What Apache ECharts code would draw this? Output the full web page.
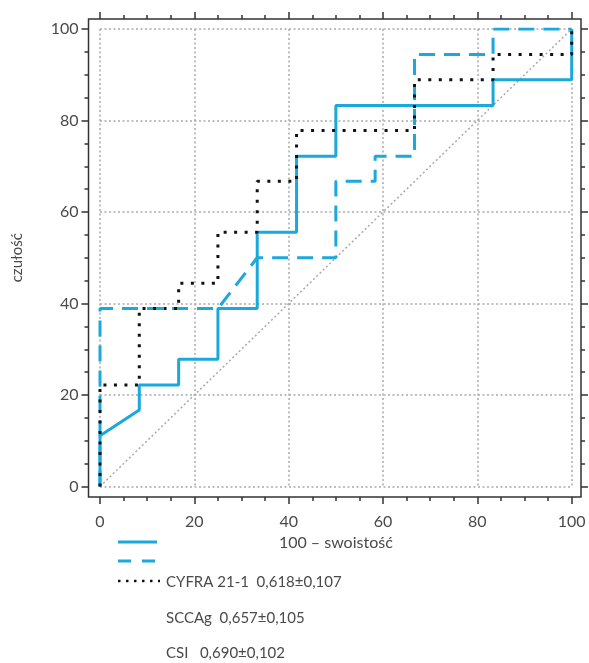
<!DOCTYPE html>
<html>
<head>
<meta charset="utf-8">
<style>
  html, body { margin: 0; padding: 0; background: #fff; }
  #roc { width: 589px; height: 663px; }
</style>
<script src="https://cdn.jsdelivr.net/npm/echarts@6/dist/echarts.min.js"></script>
</head>
<body>
<div id="roc"></div>
<script>
// ROC curves, x = 100 - swoistosc, y = czulosc
var cyfraPoints = [[0, 0], [0, 11.1], [8.33, 16.7], [8.33, 22.2], [16.67, 22.2], [16.67, 27.8],
    [25, 27.8], [25, 38.9], [33.33, 38.9], [33.33, 55.6], [41.67, 55.6], [41.67, 72.2],
    [50, 72.2], [50, 83.3], [83.33, 83.3], [83.33, 88.9], [100, 88.9], [100, 100]];
var sccagPoints = [[0, 0], [0, 38.9], [25, 38.9], [33.33, 50], [50, 50], [50, 66.7],
    [58.33, 66.7], [58.33, 72.2], [66.67, 72.2], [66.67, 94.4], [83.33, 94.4], [83.33, 100], [100, 100]];
var csiPoints = [[0, 0], [0, 22.2], [8.33, 22.2], [8.33, 38.9], [16.67, 38.9], [16.67, 44.4],
    [25, 44.4], [25, 55.6], [33.33, 55.6], [33.33, 66.7], [41.67, 66.7], [41.67, 77.8],
    [66.67, 77.8], [66.67, 88.9], [83.33, 88.9], [83.33, 94.4], [100, 94.4], [100, 100]];
var diagonal = [[0, 0], [100, 100]];

var seriesNames = ['CYFRA 21-1', 'SCCAg', 'CSI'];
var aucLabels = ['0,618±0,107', '0,657±0,105', '0,690±0,102'];
var legendGaps = ['  ', '  ', '   '];

var xName = '100 – swoistość';
var yName = 'czułość';

var blue = '#1ba8dc';
var textColor = '#4a4a4a';
var font = 'Lato, "Open Sans", sans-serif';
var styles = [
    { color: blue, width: 3, type: 'solid' },
    { color: blue, width: 3, type: [16, 9] },
    { color: '#111', width: 3, type: [3, 7.5] }
];

var tickStyle = { color: '#333', width: 1.5 };
function sideAxis(extra) {
    var ax = {
        type: 'value', gridIndex: 0, min: 0, max: 100, interval: 20,
        axisLine: { show: false, onZero: false },
        axisTick: { show: true, inside: false, length: 7, lineStyle: tickStyle },
        minorTick: { show: true, splitNumber: 4, length: 4, lineStyle: tickStyle },
        axisLabel: { show: false },
        splitLine: { show: false }
    };
    for (var k in extra) ax[k] = extra[k];
    return ax;
}

var gridSplit = { show: true, lineStyle: { color: '#aaa', width: 1.5, type: [2, 2.5] } };

var legendGraphics = [];
var iconY = [542, 561, 581];
var textY = [582, 618, 653];
seriesNames.forEach(function (n, i) {
    legendGraphics.push({
        type: 'line',
        shape: { x1: 118, y1: iconY[i], x2: i === 2 ? 160 : 157, y2: iconY[i] },
        style: { stroke: styles[i].color, lineWidth: i === 2 ? 2.5 : 3,
            lineDash: i === 0 ? null : (i === 1 ? [13, 11] : [2.5, 5.5]) }
    });
    legendGraphics.push({
        type: 'text', x: 166, y: textY[i],
        style: { text: n + legendGaps[i] + aucLabels[i], fill: textColor, fontSize: 15,
            fontFamily: font, verticalAlign: 'middle' }
    });
});

var myChart = echarts.init(document.getElementById('roc'));
myChart.setOption({
    animation: false,
    grid: [
        { left: 100, right: 17.3, top: 29, bottom: 176.5 },
        { left: 88.5, right: 8, top: 19, bottom: 166, show: true, borderColor: '#333', borderWidth: 1.5 }
    ],
    xAxis: [
        sideAxis({
            position: 'bottom', offset: 10.5,
            axisLabel: { show: true, color: textColor, fontSize: 16, fontFamily: font, margin: 17 },
            splitLine: gridSplit,
            name: xName, nameLocation: 'middle', nameGap: 38,
            nameTextStyle: { color: textColor, fontSize: 16, fontFamily: font }
        }),
        sideAxis({ position: 'top', offset: 10 }),
        { type: 'value', gridIndex: 1, show: false }
    ],
    yAxis: [
        sideAxis({
            position: 'left', offset: 11.5,
            axisLabel: { show: true, color: textColor, fontSize: 16, fontFamily: font, margin: 10 },
            splitLine: gridSplit,
            name: yName, nameLocation: 'middle', nameGap: 64,
            nameTextStyle: { color: textColor, fontSize: 15, fontFamily: font }
        }),
        sideAxis({ position: 'right', offset: 9.3 }),
        { type: 'value', gridIndex: 1, show: false }
    ],
    series: [
        {
            name: 'diagonal', type: 'line', data: diagonal, symbol: 'none', silent: true,
            lineStyle: { color: '#aaa', width: 1.5, type: [2, 2.5] }
        },
        {
            name: seriesNames[0], type: 'line', data: cyfraPoints, symbol: 'none',
            lineStyle: styles[0]
        },
        {
            name: seriesNames[1], type: 'line', data: sccagPoints, symbol: 'none',
            lineStyle: styles[1]
        },
        {
            name: seriesNames[2], type: 'line', data: csiPoints, symbol: 'none',
            lineStyle: styles[2]
        }
    ],
    graphic: legendGraphics
});
</script>
</body>
</html>
